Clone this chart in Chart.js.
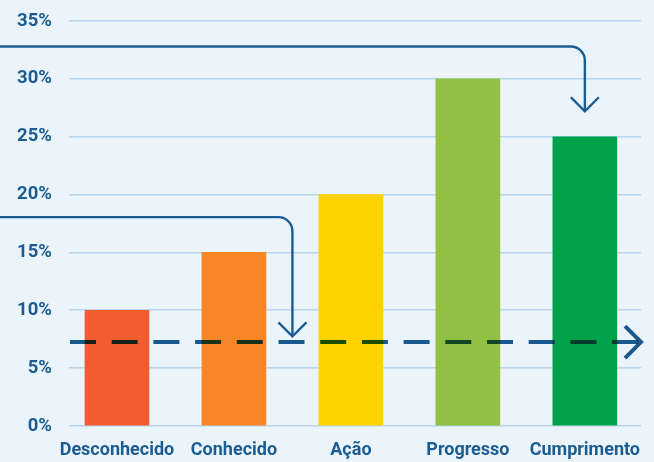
<!DOCTYPE html>
<html>
<head>
<meta charset="utf-8">
<script src="https://cdn.jsdelivr.net/npm/chart.js@4"></script>
<style>
html,body{margin:0;padding:0;background:#EBF3FB;}
#wrap{width:654px;height:462px;position:relative;}
</style>
</head>
<body>
<div id="wrap"><canvas id="c"></canvas></div>
<script>
const categories = ['Desconhecido', 'Conhecido', 'Ação', 'Progresso', 'Cumprimento'];
const values = [10, 15, 20, 30, 25];
const barColors = ['#F15D2F', '#F68626', '#FFD200', '#92C042', '#00A14B'];
const yTicks = [0, 5, 10, 15, 20, 25, 30, 35];
const thresholdValue = 7.25;
// annotation arrows: [x category position, horizontal y value, arrow tip y value]
const arrowUpper = [4, 32.8, 27.2];
const arrowLower = [1.5, 18.05, 7.75];

const ink = '#1B5D92';
const fontFam = 'Roboto, Liberation Sans, Arial, sans-serif';

const bgPlugin = {
  id: 'bg',
  beforeDraw(chart) {
    const ctx = chart.ctx;
    ctx.save();
    ctx.fillStyle = '#EBF3FB';
    ctx.fillRect(0, 0, chart.width, chart.height);
    ctx.restore();
  }
};

function chevronDown(ctx, x, y, s) {
  ctx.beginPath();
  ctx.moveTo(x - s, y - s);
  ctx.lineTo(x, y);
  ctx.lineTo(x + s, y - s);
  ctx.stroke();
}

function elbowArrow(chart, spec) {
  const ctx = chart.ctx;
  const xs = chart.scales.x, ys = chart.scales.y;
  const vx = xs.getPixelForValue(spec[0]);
  const hy = ys.getPixelForValue(spec[1]);
  const ty = ys.getPixelForValue(spec[2]);
  const r = 14;
  ctx.save();
  ctx.strokeStyle = ink;
  ctx.lineWidth = 2.4;
  ctx.beginPath();
  ctx.moveTo(0, hy);
  ctx.lineTo(vx - r, hy);
  ctx.arcTo(vx, hy, vx, hy + r, r);
  ctx.lineTo(vx, ty);
  ctx.stroke();
  chevronDown(ctx, vx, ty, 14);
  ctx.restore();
}

const annotPlugin = {
  id: 'annot',
  afterDatasetsDraw(chart) {
    const ctx = chart.ctx;
    const ca = chart.chartArea;
    const y = chart.scales.y.getPixelForValue(thresholdValue);
    ctx.save();
    ctx.globalCompositeOperation = 'multiply';
    ctx.strokeStyle = ink;
    ctx.lineWidth = 4;
    ctx.setLineDash([26, 15.7]);
    ctx.beginPath();
    ctx.moveTo(ca.left + 1, y);
    ctx.lineTo(ca.right - 2, y);
    ctx.stroke();
    ctx.setLineDash([]);
    ctx.beginPath();
    ctx.moveTo(ca.right - 16, y - 16);
    ctx.lineTo(ca.right, y);
    ctx.lineTo(ca.right - 16, y + 16);
    ctx.stroke();
    ctx.restore();
    elbowArrow(chart, arrowUpper);
    elbowArrow(chart, arrowLower);
  }
};

new Chart(document.getElementById('c'), {
  type: 'bar',
  data: {
    datasets: [{
      data: values.map((v, i) => ({ x: i, y: v })),
      backgroundColor: barColors,
      borderWidth: 0,
      barThickness: 64
    }]
  },
  options: {
    responsive: true,
    maintainAspectRatio: false,
    animation: false,
    events: [],
    layout: { padding: { left: 16, right: 13, top: 21, bottom: 0 } },
    plugins: { legend: { display: false }, tooltip: { enabled: false } },
    scales: {
      x: {
        type: 'linear',
        min: -0.41,
        max: 4.48,
        offset: false,
        grid: { display: false, drawTicks: false },
        border: { display: false },
        afterBuildTicks(scale) { scale.ticks = categories.map((c, i) => ({ value: i })); },
        afterFit(scale) { scale.paddingLeft = 0; scale.paddingRight = 0; scale.height = 36; },
        ticks: {
          autoSkip: false,
          maxRotation: 0,
          padding: 14,
          color: ink,
          font: { family: fontFam, size: 18, weight: 'bold' },
          callback: (v) => categories[v]
        }
      },
      y: {
        min: 0,
        max: 35,
        afterBuildTicks(scale) { scale.ticks = yTicks.map(v => ({ value: v })); },
        afterFit(scale) { scale.paddingTop = 0; scale.paddingBottom = 0; scale.width = 53; },
        grid: { color: '#B7D5EF', lineWidth: 1.6, drawTicks: false },
        border: { display: false },
        ticks: {
          padding: 17,
          color: ink,
          font: { family: fontFam, size: 18.5, weight: 'bold' },
          callback: (v) => v + '%'
        }
      }
    }
  },
  plugins: [bgPlugin, annotPlugin]
});
</script>
</body>
</html>
